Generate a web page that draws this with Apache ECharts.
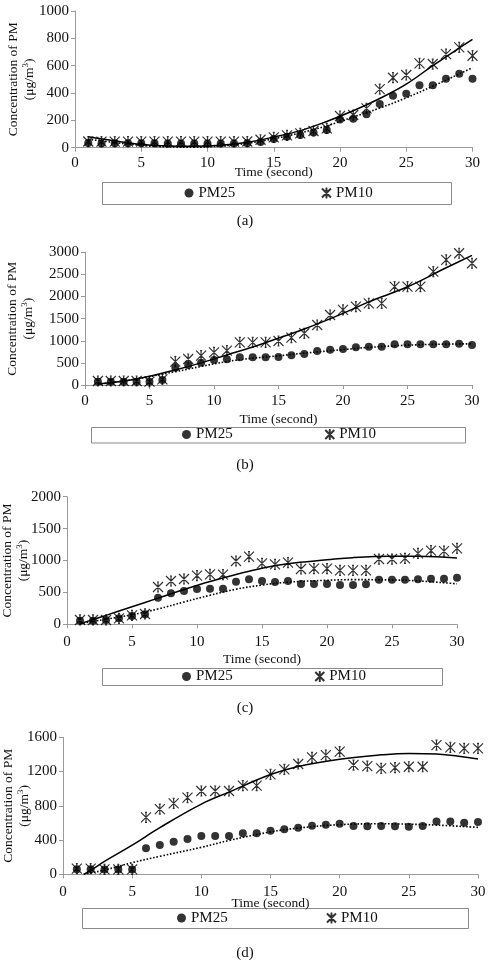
<!DOCTYPE html>
<html>
<head>
<meta charset="utf-8">
<script src="https://cdn.jsdelivr.net/npm/echarts@6/dist/echarts.min.js"></script>
<style>
html,body{margin:0;padding:0;background:#fff;}
#chart{width:488px;height:960px;}
</style>
</head>
<body>
<div id="chart"></div>
<script>
// measured points, one value per second
var time = [1,2,3,4,5,6,7,8,9,10,11,12,13,14,15,16,17,18,19,20,21,22,23,24,25,26,27,28,29,30];

var pm25A = [35,30,32,32,32,32,30,30,30,30,30,30,32,42,63,80,93,112,129,207,212,244,320,380,395,456,456,505,541,505];
var pm10A = [45,44,44,44,44,44,44,44,44,44,44,44,45,58,76,90,105,122,141,232,239,288,429,512,532,617,612,685,734,673];
var pm25B = [75,75,75,75,75,113,392,452,505,565,580,626,626,626,633,671,701,769,799,814,852,867,867,920,920,920,920,920,935,905];
var pm10B = [90,90,90,90,75,128,528,588,663,739,777,965,965,965,995,1071,1169,1357,1583,1697,1772,1847,1847,2224,2224,2224,2564,2828,2979,2752];
var pm25C = [57,57,68,94,130,157,418,485,522,553,559,559,668,705,679,663,679,632,632,632,616,616,626,700,700,700,705,715,715,731];
var pm10C = [68,68,68,94,141,162,585,679,710,762,783,778,992,1060,955,940,966,867,872,872,846,846,846,1023,1023,1034,1112,1154,1148,1190];
var pm25D = [60,60,55,55,55,303,342,381,412,447,447,447,478,478,510,525,545,568,580,591,564,560,564,560,556,564,618,618,603,611];
var pm10D = [66,66,58,58,58,665,762,829,895,973,973,973,1035,1035,1167,1225,1288,1365,1392,1432,1276,1264,1237,1245,1256,1256,1509,1482,1470,1470];

// trendlines
var fitTimeA = [1,3,5,7,9,11,13,15,17,19,21,23,25,27,29,30];
var fitPm10A = [80,50,25,12,10,18,40,78,125,192,270,360,465,600,730,793];
var fitPm25A = [62,38,18,6,4,12,32,66,108,160,225,290,365,450,540,585];
var fitTimeB = [1,3,5,7,9,11,13,15,17,20,22,25,28,30];
var fitPm10B = [20,90,200,340,500,680,860,1060,1265,1620,1880,2220,2650,2930];
var fitPm25B = [20,90,190,300,420,530,605,660,720,800,850,900,925,930];
var fitTimeC = [1,2,3,5,7,9,11,13,15,17,20,22,25,27,30];
var fitPm10C = [10,75,140,275,410,545,670,780,880,950,1010,1045,1065,1065,1040];
var fitPm25C = [10,45,80,150,240,350,455,550,615,660,690,700,695,680,635];
var fitTimeD = [1.5,2,3,5,7,10,12,15,17,20,23,25,27,30];
var fitPm10D = [0,45,150,340,545,820,960,1165,1260,1345,1395,1412,1405,1346];
var fitPm25D = [0,15,50,136,210,315,395,495,540,580,590,585,575,548];

var xTicks = [0,5,10,15,20,25,30];
var panelTags = ['(a)','(b)','(c)','(d)'];
var yMax = [1000,3000,2000,1600];
var yStep = [200,500,500,400];

var panels = [
	{pm25:pm25A, pm10:pm10A, fitX:fitTimeA, fit25:fitPm25A, fit10:fitPm10A},
	{pm25:pm25B, pm10:pm10B, fitX:fitTimeB, fit25:fitPm25B, fit10:fitPm10B},
	{pm25:pm25C, pm10:pm10C, fitX:fitTimeC, fit25:fitPm25C, fit10:fitPm10C},
	{pm25:pm25D, pm10:pm10D, fitX:fitTimeD, fit25:fitPm25D, fit10:fitPm10D}
];

// page layout of each panel
var layout = [
	{left:75, top:11, width:397.5, height:136.7, yGap:38, xGap:18, xMargin:8, lgLeft:184.5, lgTop:185.5, lgGap:85.8, box:[102,182,349,22], tagY:221},
	{left:85, top:252.3, width:387, height:132.7, yGap:49, xGap:27, xMargin:9, lgLeft:182, lgTop:427, lgGap:91.6, box:[91,427,374,15.5], tagY:465},
	{left:67, top:496.7, width:390, height:127.6, yGap:36, xGap:28, xMargin:10, lgLeft:182, lgTop:669, lgGap:81.6, box:[102,668,340,17], tagY:708},
	{left:63, top:737.3, width:415, height:137, yGap:31, xGap:22, xMargin:10, lgLeft:177, lgTop:910.5, lgGap:98.3, box:[82,908,386,20], tagY:953}
];

var font = '"Liberation Serif", "Times New Roman", serif';
var ink = '#111';
var axisGrey = '#9a9a9a';
var starPath = 'path://M0,0L10,10M10,0L0,10M5,0L5,10M4,0L6,0M4,10L6,10';

function pairs(xs, ys){
	var out = [];
	for (var i = 0; i < xs.length; i++) out.push([xs[i], ys[i]]);
	return out;
}

var grids = [], xAxes = [], yAxes = [], series = [], legends = [], graphics = [];

panels.forEach(function(p, i){
	var L = layout[i];
	grids.push({left:L.left, top:L.top, width:L.width, height:L.height, outerBoundsMode:'none'});
	xAxes.push({
		gridIndex:i, type:'value', min:xTicks[0], max:xTicks[xTicks.length-1], interval:5,
		name:'Time (second)', nameLocation:'middle', nameGap:L.xGap, nameMoveOverlap:false,
		nameTextStyle:{fontFamily:font, fontSize:13.5, color:ink},
		axisLine:{lineStyle:{color:axisGrey, width:1}},
		axisTick:{show:true, length:4, lineStyle:{color:axisGrey}},
		axisLabel:{fontFamily:font, fontSize:15, color:ink, margin:L.xMargin},
		splitLine:{show:false}
	});
	yAxes.push({
		gridIndex:i, type:'value', min:0, max:yMax[i], interval:yStep[i],
		name:'Concentration of PM\n(\u03bcg/m{sup|3})', nameLocation:'middle', nameRotate:90,
		nameGap:L.yGap, nameMoveOverlap:false,
		nameTextStyle:{fontFamily:font, fontSize:13.5, color:ink, lineHeight:16,
			rich:{sup:{fontFamily:font, fontSize:9, color:ink, verticalAlign:'top', lineHeight:16}}},
		axisLine:{show:true, lineStyle:{color:axisGrey, width:1}},
		axisTick:{show:true, length:4, lineStyle:{color:axisGrey}},
		axisLabel:{fontFamily:font, fontSize:15, color:ink, margin:6,
			formatter:function(v){ return String(v); }},
		splitLine:{show:false}
	});
	series.push({
		name:'PM10 trend', type:'line', xAxisIndex:i, yAxisIndex:i,
		data:pairs(p.fitX, p.fit10), showSymbol:false, smooth:0.4, silent:true, z:3,
		lineStyle:{color:'#000', width:1.5, type:'solid'}
	});
	series.push({
		name:'PM25 trend', type:'line', xAxisIndex:i, yAxisIndex:i,
		data:pairs(p.fitX, p.fit25), showSymbol:false, smooth:0.4, silent:true, z:3,
		lineStyle:{color:'#000', width:1.6, type:[1.6,1.8]}
	});
	series.push({
		name:'PM25', type:'scatter', xAxisIndex:i, yAxisIndex:i,
		data:pairs(time, p.pm25), symbol:'circle', symbolSize:8,
		itemStyle:{color:'#000'}
	});
	series.push({
		name:'PM10', type:'scatter', xAxisIndex:i, yAxisIndex:i,
		data:pairs(time, p.pm10), symbol:starPath, symbolSize:10,
		itemStyle:{color:'rgba(0,0,0,0)', borderColor:'#000', borderWidth:1.2}
	});
	legends.push({
		data:['PM25','PM10'], left:L.lgLeft, top:L.lgTop, padding:0,
		itemGap:L.lgGap, itemWidth:9, itemHeight:9, selectedMode:false,
		textStyle:{fontFamily:font, fontSize:15, color:ink}
	});
	graphics.push({
		type:'rect', z:-1,
		shape:{x:L.box[0]+0.5, y:L.box[1]+0.5, width:L.box[2], height:L.box[3]},
		style:{fill:'none', stroke:'#8a8a8a', lineWidth:1}
	});
	graphics.push({
		type:'text', x:245, y:L.tagY,
		style:{text:panelTags[i], fontSize:15, fontFamily:font, fill:ink, align:'center', verticalAlign:'middle'}
	});
});

var myChart = echarts.init(document.getElementById('chart'), null, {renderer:'canvas'});
myChart.setOption({
	animation:false,
	backgroundColor:'#fff',
	grid:grids,
	xAxis:xAxes,
	yAxis:yAxes,
	legend:legends,
	graphic:{elements:graphics},
	series:series
});
</script>
</body>
</html>
